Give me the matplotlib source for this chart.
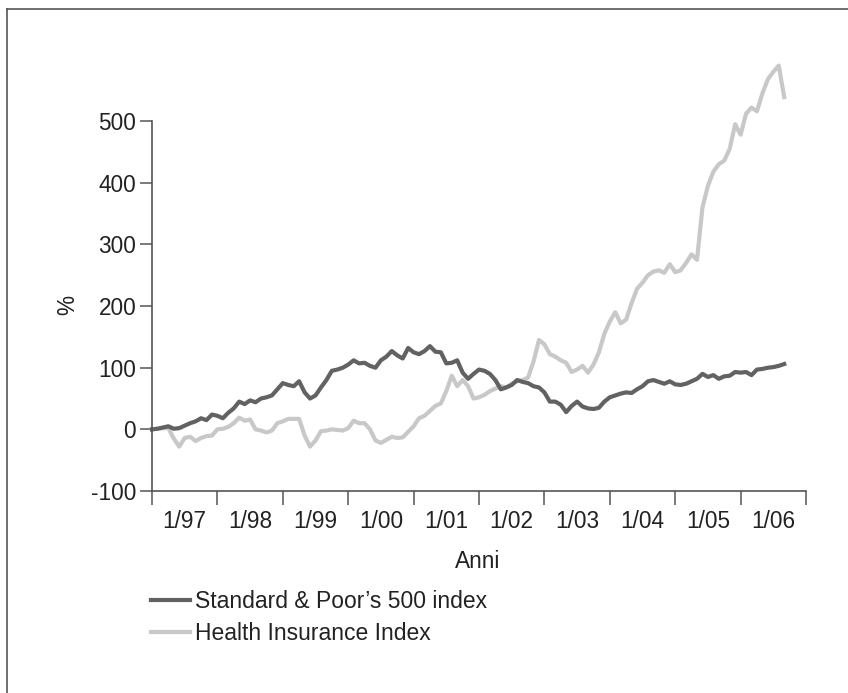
import matplotlib
matplotlib.use("Agg")
import matplotlib.pyplot as plt
from matplotlib.lines import Line2D
import numpy as np

plt.rcParams['font.family'] = ['Liberation Sans', 'DejaVu Sans']

# Monthly index values (% change since start, first month = 7/96)
sp500 = [0, 1, 3, 5, 1, 2, 6, 10, 13, 18, 15, 24, 22, 18, 27, 34, 45, 41, 47, 44,
         50, 52, 55, 65, 75, 72, 70, 78, 60, 50, 55, 68, 80, 95, 97, 100, 105, 112, 107, 108,
         103, 100, 112, 118, 127, 120, 115, 132, 125, 122, 127, 135, 126, 125, 107, 108, 112, 92, 82, 90,
         97, 95, 90, 80, 65, 68, 72, 80, 77, 75, 70, 68, 60, 45, 45, 40, 28, 38, 45, 37,
         34, 33, 35, 45, 52, 55, 58, 60, 59, 65, 70, 78, 80, 77, 74, 78, 73, 72, 74, 78,
         82, 90, 85, 88, 82, 86, 87, 93, 92, 93, 88, 97, 98, 100, 101, 103, 106]

health = [0, 1, 2, 2, -15, -28, -14, -12, -19, -14, -11, -10, 0, 1, 4, 10, 19, 14, 16, 0,
          -2, -5, -2, 10, 13, 17, 17, 17, -10, -28, -18, -3, -2, 0, -1, -2, 2, 14, 10, 10,
          0, -18, -22, -17, -12, -14, -13, -4, 5, 18, 22, 30, 38, 42, 62, 87, 70, 80, 70, 50,
          52, 56, 62, 66, 70, 68, 74, 78, 80, 84, 110, 145, 138, 122, 118, 112, 108, 93, 97, 103,
          92, 105, 125, 155, 175, 190, 172, 178, 205, 228, 238, 250, 256, 258, 254, 268, 255, 258, 270, 284,
          275, 360, 395, 418, 430, 436, 455, 495, 478, 512, 522, 516, 545, 568, 580, 590, 539]

year_labels = ['1/97', '1/98', '1/99', '1/00', '1/01', '1/02', '1/03', '1/04', '1/05', '1/06']
y_ticks = [-100, 0, 100, 200, 300, 400, 500]
series_labels = ["Standard & Poor\u2019s 500 index", "Health Insurance Index"]

W, H = 848, 693
fig = plt.figure(figsize=(W / 100, H / 100), dpi=100)

# frame lines (top and left)
fig.add_artist(Line2D([7 / W, 7 / W], [0, 1 - 8.5 / H], color='#555555', lw=1.2))
fig.add_artist(Line2D([7 / W, 1], [1 - 8.5 / H, 1 - 8.5 / H], color='#555555', lw=1.2))

ax = fig.add_axes([152 / W, 1 - 491 / H, 654 / W, 431.5 / H])

months = np.arange(len(sp500))
ax.plot(np.arange(len(health)), health, color='#c8c8c8', lw=3.0, clip_on=False,
        label=series_labels[1], solid_joinstyle='round')
ax.plot(months, sp500, color='#626262', lw=3.0, clip_on=False,
        label=series_labels[0], solid_joinstyle='round')

ax.set_xlim(0, 120)
ax.set_ylim(-100, 600)

for s in ['top', 'right']:
    ax.spines[s].set_visible(False)
for s in ['left', 'bottom']:
    ax.spines[s].set_color('#555555')
    ax.spines[s].set_linewidth(1.2)
ax.spines['left'].set_bounds(-100, 500)

ax.set_yticks(y_ticks)
ax.set_yticklabels([str(v) for v in y_ticks])
ax.set_xticks(np.arange(0, 121, 12))
ax.set_xticklabels([])
ax.set_xticks(np.arange(6, 120, 12), minor=True)
ax.set_xticklabels(year_labels, minor=True)

ax.tick_params(axis='y', which='major', length=8.4, width=1.1, color='#555555',
               labelsize=16.3, pad=3.0, labelcolor='#222222')
ax.tick_params(axis='x', which='major', length=10, width=1.1, color='#555555')
ax.tick_params(axis='x', which='minor', length=0, labelsize=16.3, pad=13.5, labelcolor='#222222')

fig.text(478 / W, 1 - 561 / H, 'Anni', ha='center', va='center', fontsize=16.3, color='#222222')
fig.text(68 / W, 1 - 305 / H, '%', ha='center', va='center', rotation=90, fontsize=16.3, color='#222222')

handles, labels = ax.get_legend_handles_labels()
leg = fig.legend(handles[::-1], labels[::-1], loc='upper left',
                 bbox_to_anchor=(151 / W, 1 - 590 / H), frameon=False, fontsize=16.5,
                 handlelength=1.7, handletextpad=0.2, labelspacing=0.38,
                 borderpad=0, borderaxespad=0)
for t in leg.get_texts():
    t.set_color('#222222')

fig.savefig('out.png', dpi=100)
